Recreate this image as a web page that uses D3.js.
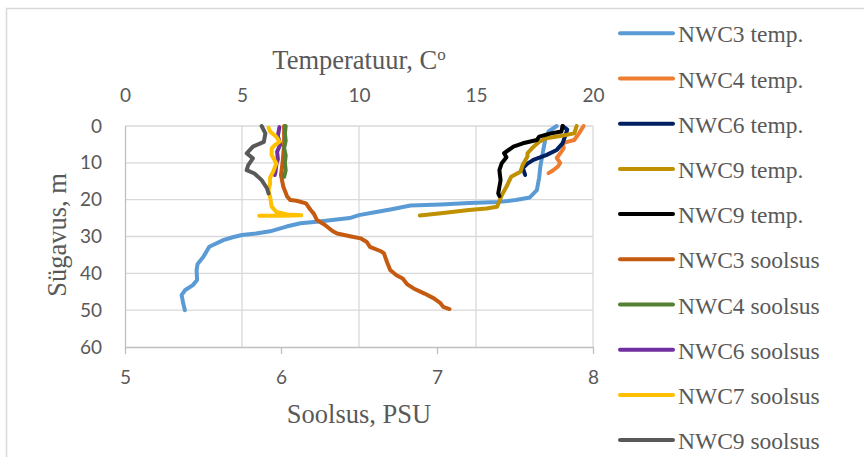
<!DOCTYPE html>
<html lang="et">
<head>
<meta charset="utf-8">
<title>Temperatuur ja soolsus</title>
<script src="https://d3js.org/d3.v7.min.js"></script>
<style>
  body { margin: 0; background: #fff; }
  .tick text { font-family: Lato, "Liberation Sans", sans-serif; font-size: 19px; fill: #595959; }
  .title { font-family: "Liberation Serif", "Times New Roman", serif; font-size: 26.5px; fill: #595959; }
  .legend text { font-family: "Liberation Serif", "Times New Roman", serif; font-size: 23.5px; fill: #595959; }
</style>
</head>
<body>
<div id="chart"></div>
<script>
// legend names, in drawing order
var seriesNames = ["NWC3 temp.", "NWC4 temp.", "NWC6 temp.", "NWC9 temp.", "NWC9 temp.",
                   "NWC3 soolsus", "NWC4 soolsus", "NWC6 soolsus", "NWC7 soolsus", "NWC9 soolsus"];

// temperature profiles: [temperatuur C, sügavus m]
var nwc3Temp = [[18.45,0],[18.1,1.5],[17.95,4],[17.85,7.4],[17.75,11],[17.7,14],[17.6,17.4],[17.3,19.4],
  [16.7,20.1],[16.0,20.6],[14.7,20.9],[13.5,21.3],[12.2,21.6],[11.4,22.6],[10.8,23.3],[10.0,24.2],
  [9.6,25.0],[8.3,25.9],[7.5,26.4],[6.9,27.3],[6.2,28.6],[5.6,29.2],[5.0,29.6],[4.6,30.2],[4.2,31.0],
  [3.6,32.8],[3.35,35.5],[3.1,37.5],[3.06,39.1],[3.08,41.8],[2.9,43.2],[2.56,44.6],[2.42,45.9],
  [2.49,48.2],[2.56,50]];
var nwc4Temp = [[19.6,0],[19.5,1],[19.4,2],[19.2,3.8],[18.9,4.3],[18.7,4.7],[18.75,6],[18.6,7.4],
  [18.45,8.7],[18.6,10],[18.5,11],[18.3,12],[18.1,12.8]];
var nwc6Temp = [[18.7,0],[18.9,1],[18.8,2.9],[18.7,4.7],[18.45,6.5],[18.0,7.9],[17.45,9.2],[17.2,10.2],
  [17.0,11.4],[17.1,13.3]];
var nwc9Temp = [[19.3,0],[19.2,2],[18.6,2.7],[18.0,3.3],[17.7,4.3],[17.4,6],[17.2,7.4],[17.2,8.3],
  [17.0,10.5],[16.9,12.4],[16.5,13.8],[16.3,16.5],[16.1,18.8],[15.9,21.9],[15.45,22.4],[14.7,22.8],
  [13.5,23.7],[12.6,24.3]];
var nwc9TempB = [[18.7,0],[18.65,1.5],[18.2,2],[17.7,2.9],[17.6,3.8],[17.0,4.7],[16.6,5.6],[16.2,7.4],
  [16.3,8.5],[16.1,10.1],[16.0,12],[16.05,14.7],[16.0,16.5],[15.95,18.3],[16.0,19]];

// salinity profiles: [soolsus PSU, sügavus m]
var nwc3Sal = [[6.02,0],[6.02,5],[6.01,10],[6.0,13.3],[6.015,16.5],[6.04,19.2],[6.06,20.1],[6.10,20.3],
  [6.16,21],[6.19,22.8],[6.21,23.8],[6.23,25.5],[6.28,26.8],[6.33,28.5],[6.36,29.2],[6.45,30],
  [6.51,30.5],[6.55,31.5],[6.57,32.8],[6.64,34],[6.66,34.6],[6.68,37],[6.70,39.1],[6.74,40.5],
  [6.78,41.4],[6.81,43],[6.85,44.1],[6.92,45.5],[6.98,46.8],[7.02,48],[7.04,49.1],[7.08,49.7]];
var nwc4Sal = [[6.03,0],[6.025,2],[6.03,4],[6.02,6],[6.03,8],[6.025,10],[6.03,12],[6.02,13.8]];
var nwc6Sal = [[5.99,0.3],[5.98,2.7],[5.995,5],[5.975,7],[5.98,9],[5.97,10.5],[5.965,12.4],[5.96,13.3]];
var nwc7Sal = [[5.92,0.5],[5.93,1.5],[5.97,2.9],[5.99,4.3],[5.96,5.2],[5.94,6.1],[5.94,7.9],[5.97,10.1],
  [5.95,12.4],[5.93,14],[5.93,15.6],[5.92,17.5],[5.93,19.2],[5.94,21.9],[5.97,23.3],[6.04,24.0],
  [6.13,24.2],[6.0,24.4],[5.86,24.4]];
var nwc9Sal = [[5.876,0],[5.90,2],[5.89,4.3],[5.82,5.6],[5.78,7.4],[5.82,8.8],[5.79,10.6],[5.78,12],
  [5.83,12.9],[5.876,14.7],[5.91,16.9],[5.92,18.3]];

var tempTicks = [0, 5, 10, 15, 20];
var salTicks = [5, 6, 7, 8];
var depthTicks = [0, 10, 20, 30, 40, 50, 60];

var colors = ["#5b9bd5", "#ed7d31", "#002060", "#bf9000", "#000000",
              "#c55a11", "#548235", "#7030a0", "#ffc000", "#595959"];

var profiles = [nwc3Temp, nwc4Temp, nwc6Temp, nwc9Temp, nwc9TempB,
                nwc3Sal, nwc4Sal, nwc6Sal, nwc7Sal, nwc9Sal];

var width = 864, height = 457;
var svg = d3.select("#chart").append("svg")
    .attr("width", width)
    .attr("height", height);

// chart border
svg.append("rect")
    .attr("x", 6.5).attr("y", 8.5)
    .attr("width", 900).attr("height", 500)
    .attr("fill", "none")
    .attr("stroke", "#d9d9d9")
    .attr("stroke-width", 1.5);

var xT = d3.scaleLinear().domain([0, 20]).range([125, 593]);
var xS = d3.scaleLinear().domain([5, 8]).range([125, 593]);
var y = d3.scaleLinear().domain([0, 60]).range([126, 347]);
var fmt = d3.format("d");

// gridlines
svg.append("g").selectAll("line")
  .data(depthTicks.slice(0, -1))
  .enter().append("line")
    .attr("x1", xT(0)).attr("x2", xT(20))
    .attr("y1", function(d) { return y(d); })
    .attr("y2", function(d) { return y(d); })
    .attr("stroke", "#d9d9d9").attr("stroke-width", 1.3);
svg.append("g").selectAll("line")
  .data(tempTicks.slice(1))
  .enter().append("line")
    .attr("x1", function(d) { return xT(d); })
    .attr("x2", function(d) { return xT(d); })
    .attr("y1", y(0)).attr("y2", y(60))
    .attr("stroke", "#d9d9d9").attr("stroke-width", 1.3);

// axes
var gTop = svg.append("g")
    .attr("transform", "translate(0," + y(0) + ")")
    .call(d3.axisTop(xT).tickValues(tempTicks).tickFormat(fmt).tickSize(0).tickPadding(24));
gTop.select(".domain").remove();

var gLeft = svg.append("g")
    .attr("transform", "translate(" + xT(0) + ",0)")
    .call(d3.axisLeft(y).tickValues(depthTicks).tickFormat(fmt).tickSize(0).tickPadding(23).tickSizeOuter(0));
gLeft.select(".domain").attr("stroke", "#bfbfbf").attr("stroke-width", 1.3);

var gBottom = svg.append("g")
    .attr("transform", "translate(0," + y(60) + ")")
    .call(d3.axisBottom(xS).tickValues(salTicks).tickFormat(fmt).tickSize(7).tickPadding(17).tickSizeOuter(0));
gBottom.select(".domain").attr("stroke", "#bfbfbf").attr("stroke-width", 1.3);
gBottom.selectAll(".tick line").attr("stroke", "#bfbfbf").attr("stroke-width", 1.3);

// profiles
var line = d3.line()
    .x(function(d) { return d.x; })
    .y(function(d) { return y(d.depth); });

profiles.forEach(function(p, i) {
  var sx = i < 5 ? xT : xS;
  svg.append("path")
    .datum(p.map(function(d) { return {x: sx(d[0]), depth: d[1]}; }))
    .attr("d", line)
    .attr("fill", "none")
    .attr("stroke", colors[i])
    .attr("stroke-width", 4)
    .attr("stroke-linejoin", "round")
    .attr("stroke-linecap", "round");
});

// axis titles
var tTitle = svg.append("text")
    .attr("class", "title")
    .attr("x", 359).attr("y", 69)
    .attr("text-anchor", "middle");
tTitle.append("tspan").text("Temperatuur, C");
tTitle.append("tspan").attr("dy", -9).style("font-size", "17px").text("o");

svg.append("text")
    .attr("class", "title")
    .attr("x", 359).attr("y", 423)
    .attr("text-anchor", "middle")
    .text("Soolsus, PSU");

svg.append("text")
    .attr("class", "title")
    .attr("transform", "translate(66,235) rotate(-90)")
    .attr("text-anchor", "middle")
    .text("Sügavus, m");

// legend
var legend = svg.append("g").attr("class", "legend");
var items = legend.selectAll("g")
  .data(seriesNames)
  .enter().append("g")
    .attr("transform", function(d, i) { return "translate(620," + (33.3 + i * 45.2) + ")"; });
items.append("line")
    .attr("x1", 0).attr("x2", 53)
    .attr("stroke", function(d, i) { return colors[i]; })
    .attr("stroke-width", 4)
    .attr("stroke-linecap", "round");
items.append("text")
    .attr("x", 58).attr("y", 9)
    .text(function(d) { return d; });
</script>
</body>
</html>
